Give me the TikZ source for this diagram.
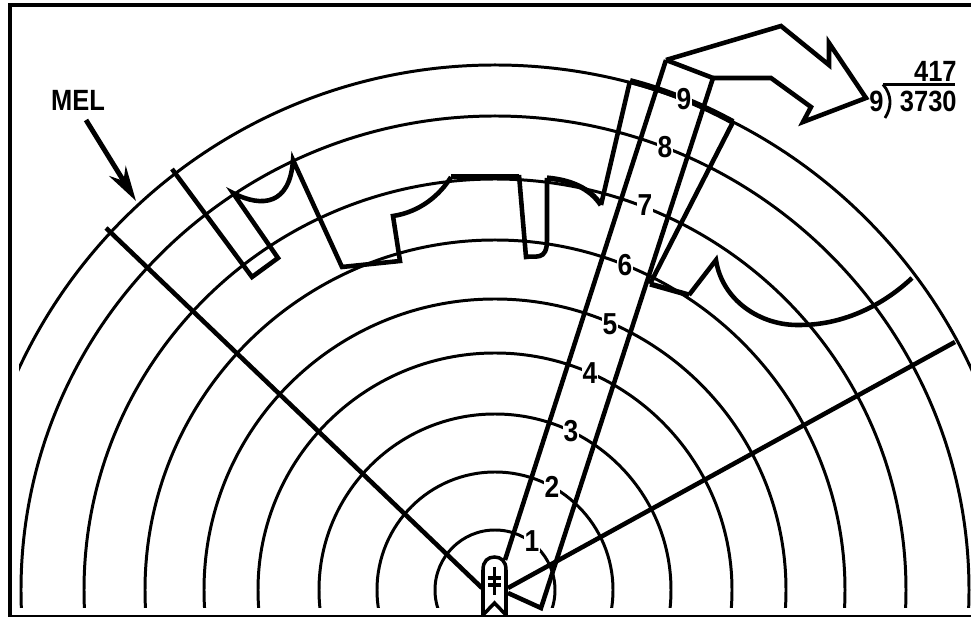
\documentclass[tikz,border=0pt]{standalone}
\usepackage{fontspec}
\setmainfont{Liberation Sans}
\usepackage{tikz}
\usetikzlibrary{arrows.meta}
\newcommand{\tallfig}[1]{\scalebox{1}[1.15]{#1}}
\tikzset{
  ring/.style={line width=1.7pt},
  bound/.style={line width=2.6pt,line join=miter},
  heavy/.style={line width=3.4pt},
  num/.style={font=\fontsize{15}{16}\selectfont\bfseries,fill=white,inner sep=0.6pt},
  calc/.style={font=\fontsize{14.5}{15}\selectfont\bfseries,inner sep=0pt},
}

\begin{document}
\begin{tikzpicture}[x=0.02cm,y=-0.02cm]
  \useasboundingbox (0,0) rectangle (971,617);
  %% rings
  \begin{scope}
    \clip (19,8) rectangle (971,608);
    \foreach \r in {60,118,176,237,291,350,411,474,525}
      \draw[ring] (495,590) circle (\r);
  \end{scope}

  %% frame
  \draw[line width=2.2pt] (8,5.2) -- (971,5.2);
  \draw[line width=2.4pt] (10,3.5) -- (10,617);
  \draw[line width=1.2pt] (8,615.7) -- (971,615.7);

  %% radial limits
  \coordinate (shipL) at (482,588);
  \coordinate (shipR) at (508,588);
  \coordinate (tickL) at (106,228);
  \coordinate (tickR) at (955,342);
  \draw[bound] (shipL) -- (tickL);
  \draw[bound] (shipR) -- (tickR);

  %% speed strip
  \coordinate (stripTop) at (666,60);
  \coordinate (stripEnd) at (713,78);
  \draw[bound] (505,560) -- (stripTop);
  \draw[bound] (508,593) -- (541,608) -- (stripEnd) -- (stripTop);
  \draw[bound] (stripTop) -- (781,26) -- (829,65) -- (829,43) -- (866,98)
    -- (803,122) -- (811,107) -- (771,78) -- (stripEnd);

  %% bearing contour
  \draw[bound] (172,169) -- (252,277) -- (278,258) -- (233,193)
    .. controls (262,208) and (290,205) .. (293,160)
    -- (342,267) -- (400,261) -- (393,216)
    .. controls (420,212) and (440,195) .. (451,177);
  \draw[heavy] (451,176.5) -- (519,176.5);
  \draw[bound] (519,175) -- (526,257) .. controls (535,255) and (547,262) .. (547,240) -- (547,178);
  \draw[line width=3pt] (547,178) .. controls (570,180) and (590,188) .. (601,205);
  \draw[bound] (601,205) -- (630,81);
  \draw[heavy] (630,81) .. controls (665,90) and (700,104) .. (733,122);
  \draw[bound] (733,122) -- (650,284);
  \draw[line width=3pt] (650,284) -- (689,295);
  \draw[bound] (689,295) -- (716,260)
    .. controls (722,300) and (760,326) .. (800,325)
    .. controls (840,325) and (880,308) .. (912,278);

  %% ship
  \draw[fill=white,line width=2pt] (483,615) -- (483,570) .. controls (483,561) and (488,557) .. (494.5,557)
    .. controls (501,557) and (506,561) .. (506,570) -- (506,615);
  \draw[line width=2pt] (483,615) -- (494.5,603) -- (506,615);
  \draw[line width=1.8pt] (494.5,567) -- (494.5,595);
  \draw[line width=1.8pt] (488,578) -- (501,578);
  \draw[line width=1.8pt] (488,585) -- (501,585);

  %% ring numbers
  \node[num] (n1) at (532,541) {\tallfig{1}};
  \node[num] (n2) at (552,487) {\tallfig{2}};
  \node[num] (n3) at (571,431) {\tallfig{3}};
  \node[num] (n4) at (590,373) {\tallfig{4}};
  \node[num] (n5) at (610,324) {\tallfig{5}};
  \node[num] (n6) at (625,265) {\tallfig{6}};
  \node[num] (n7) at (645,205) {\tallfig{7}};
  \node[num] (n8) at (665,147) {\tallfig{8}};
  \node[num] (n9) at (684,99) {\tallfig{9}};

  %% MEL
  \node[calc] (mel) at (78,100) {\tallfig{MEL}};
  \coordinate (melTip) at (136,201);
  \draw[-{Stealth[length=20pt,width=11pt]},line width=2.8pt] (86,120) -- (melTip);

  %% division
  \node[calc,anchor=east] (quot) at (957,71) {\tallfig{417}};
  \node[calc,anchor=east] (divd) at (957,101) {\tallfig{3730}};
  \node[calc,anchor=east] (divr) at (884,101) {\tallfig{9}};
  \draw[line width=1.6pt] (883,84.5) -- (955,84.5);
  \draw[line width=1.6pt] (883,84.5) .. controls (892,95) and (892,107) .. (885,118);
\end{tikzpicture}
\end{document}
